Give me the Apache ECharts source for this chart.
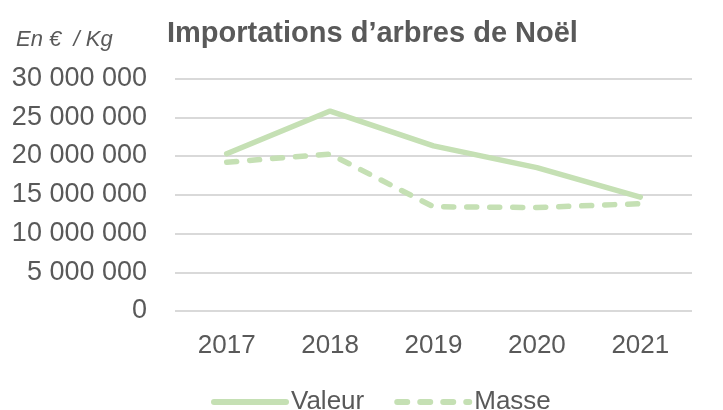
<!DOCTYPE html>
<html>
<head>
<meta charset="utf-8">
<script src="https://cdn.jsdelivr.net/npm/echarts@6/dist/echarts.min.js"></script>
<style>
  html, body { margin: 0; padding: 0; background: #fff; }
  #chart { width: 723px; height: 410px; }
</style>
</head>
<body>
<div id="chart"></div>
<script>
// Christmas tree imports, value (€) and mass (kg)
const years = ['2017', '2018', '2019', '2020', '2021'];
const valeur = [20300000, 25800000, 21300000, 18500000, 14700000];
const masse = [19200000, 20250000, 13450000, 13350000, 13850000];

const green = '#c5e0b4';
const textGrey = '#595959';
const font = '"Liberation Sans", Arial, sans-serif';

// 30000000 -> "30 000 000"
function spaced(v) {
  return String(v).replace(/\B(?=(\d{3})+(?!\d))/g, ' ');
}

const chart = echarts.init(document.getElementById('chart'));

chart.setOption({
  animation: false,
  textStyle: { fontFamily: font },
  title: [
    {
      text: 'Importations d\u2019arbres de Noël',
      left: 162,
      top: 14,
      textStyle: { fontSize: 29, fontWeight: 'bold', color: textGrey, fontFamily: font }
    },
    {
      text: 'En €  / Kg',
      left: 11,
      top: 24,
      textStyle: { fontSize: 22, fontStyle: 'italic', fontWeight: 'normal', color: textGrey, fontFamily: font }
    }
  ],
  grid: { left: 175, right: 31, top: 78.5, bottom: 99 },
  legend: {
    top: 384,
    left: 206,
    itemWidth: 72,
    itemHeight: 6,
    itemGap: 30,
    itemStyle: { opacity: 0 },
    lineStyle: { width: 6, cap: 'round' },
    textStyle: { fontSize: 26, color: textGrey, fontFamily: font },
    data: ['Valeur', 'Masse']
  },
  xAxis: {
    type: 'category',
    data: years,
    axisLine: { show: false },
    axisTick: { show: false },
    axisLabel: { fontSize: 26, color: textGrey, margin: 22 }
  },
  yAxis: {
    type: 'value',
    min: 0,
    max: 30000000,
    interval: 5000000,
    axisLabel: { fontSize: 27, color: textGrey, margin: 28, formatter: spaced },
    splitLine: { lineStyle: { color: '#d9d9d9', width: 2 } }
  },
  series: [
    {
      name: 'Valeur',
      type: 'line',
      data: valeur,
      symbol: 'none',
      lineStyle: { color: green, width: 5.5, cap: 'round' },
      itemStyle: { color: green }
    },
    {
      name: 'Masse',
      type: 'line',
      data: masse,
      symbol: 'none',
      lineStyle: { color: green, width: 5.5, type: [10, 13], cap: 'round' },
      itemStyle: { color: green }
    }
  ]
});
</script>
</body>
</html>
